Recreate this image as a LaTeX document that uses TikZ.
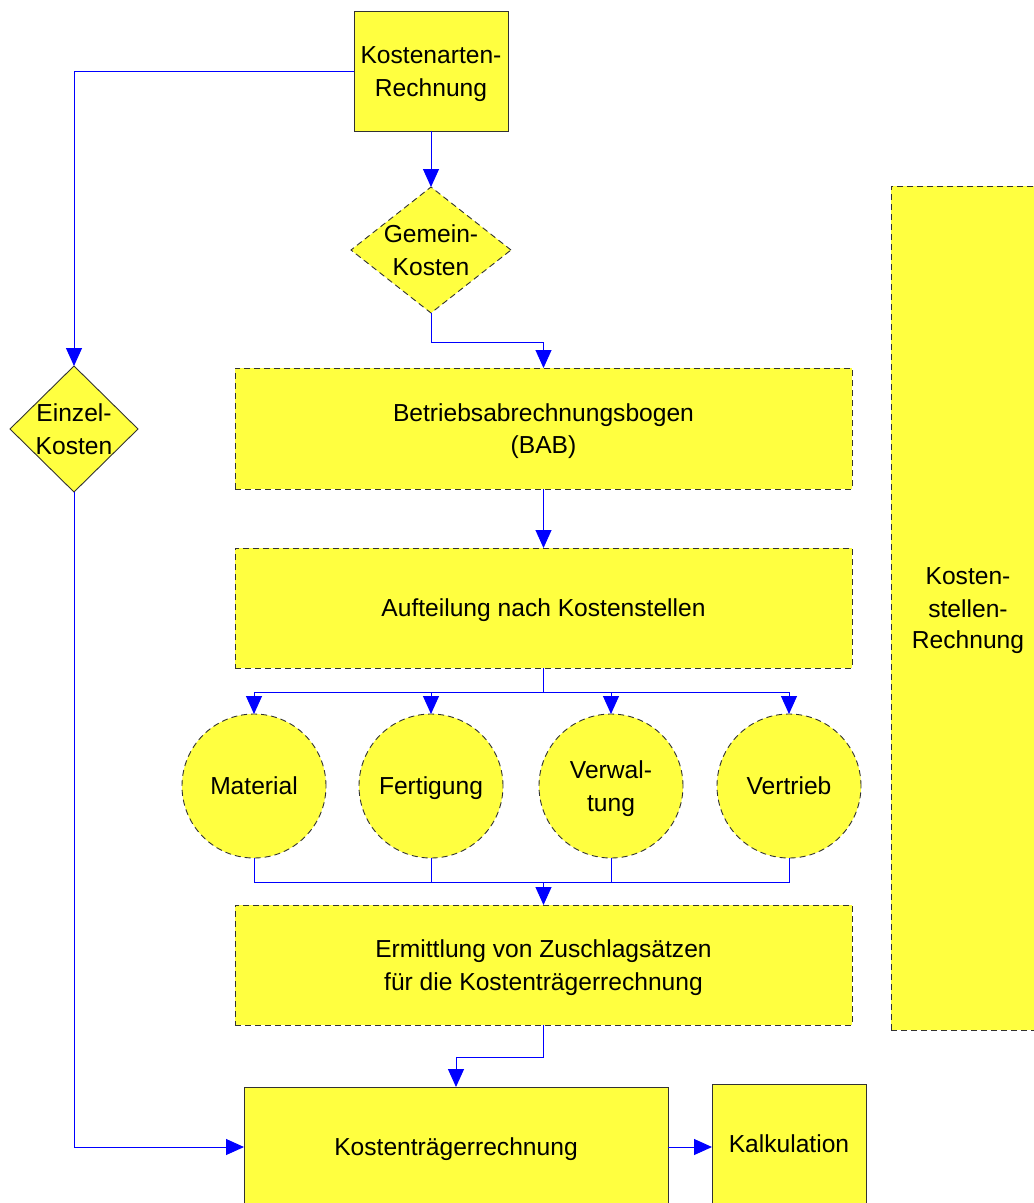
\documentclass[tikz,border=0pt]{standalone}
\usepackage{fontspec}
\setmainfont{Liberation Sans}
\usetikzlibrary{shapes.geometric,arrows.meta}
\definecolor{fillyel}{RGB}{255,255,64}
\definecolor{lineblue}{RGB}{0,0,255}
\definecolor{edgegray}{RGB}{50,50,50}
\newcommand{\mystrut}{\rule[-9.5pt]{0pt}{36.5pt}}
\begin{document}
\begin{tikzpicture}[x=1pt,y=-1pt,
  every node/.style={font=\fontsize{24.6}{31.5}\selectfont, align=center, inner sep=0pt, outer sep=0pt},
  solidbox/.style={rectangle, draw=edgegray, fill=fillyel, line width=0.9pt},
  dashbox/.style={rectangle, draw=edgegray, fill=fillyel, line width=0.9pt, dash pattern=on 6pt off 4pt},
  soliddia/.style={diamond, draw=edgegray, fill=fillyel, line width=0.9pt},
  dashdia/.style={diamond, draw=edgegray, fill=fillyel, line width=0.9pt, dash pattern=on 6pt off 4pt},
  dashcirc/.style={circle, draw=edgegray, fill=fillyel, line width=0.9pt, dash pattern=on 6pt off 4pt, minimum size=144pt},
  conn/.style={draw=lineblue, line width=1pt, -{Triangle[width=16pt,length=18pt]}},
  plainconn/.style={draw=lineblue, line width=1pt}
]
\clip (0,0) rectangle (1034,1203);
\fill[white] (0,0) rectangle (1034,1203);

% nodes
\node[solidbox, minimum width=154pt, minimum height=120pt] (ka) at (431,71) {\mystrut Kostenarten-\\\strut Rechnung};
\node[dashdia, minimum width=160pt, minimum height=126pt] (gem) at (431,250) {};
\node (gemt) at (gem) {\mystrut Gemein-\\\strut Kosten};
\node[soliddia, minimum width=128pt, minimum height=126pt] (ein) at (74,429) {};
\node (eint) at (ein) {\mystrut Einzel-\\\strut Kosten};
\node[dashbox, minimum width=617pt, minimum height=121pt] (bab) at (543.5,428.5) {\mystrut Betriebsabrechnungsbogen\\\strut (BAB)};
\node[dashbox, minimum width=617pt, minimum height=120pt] (auf) at (543.5,608) {\mystrut Aufteilung nach Kostenstellen};
\node[dashcirc] (mat) at (254,786) {\mystrut Material};
\node[dashcirc] (fer) at (431,786) {\mystrut Fertigung};
\node[dashcirc] (ver) at (611,786) {\mystrut Verwal-\\\strut tung};
\node[dashcirc] (vtr) at (789,786) {\mystrut Vertrieb};
\node[dashbox, minimum width=617pt, minimum height=120pt] (erm) at (543.5,965) {\mystrut Ermittlung von Zuschlagsätzen\\\strut für die Kostenträgerrechnung};
\node[solidbox, minimum width=424pt, minimum height=120pt] (kt) at (456,1147) {\mystrut Kostenträgerrechnung};
\node[solidbox, minimum width=154pt, minimum height=120pt] (kal) at (789,1144) {\mystrut Kalkulation};
\node[dashbox, minimum width=154pt, minimum height=844pt] (ksr) at (968,608) {\mystrut Kosten-\\\strut stellen-\\\strut Rechnung};

% connectors
\draw[conn] (ka.south) -- (gem.north);
\draw[conn] (ka.west) -| (ein.north);
\draw[conn] (gem.south) -- ++(0,29) -| (bab.north);
\draw[conn] (bab.south) -- (auf.north);
\coordinate (split) at (543.5,692);
\draw[plainconn] (auf.south) -- (split);
\draw[conn] (split) -| (mat.north);
\draw[conn] (split) -| (fer.north);
\draw[conn] (split) -| (ver.north);
\draw[conn] (split) -| (vtr.north);
\coordinate (merge) at (543.5,882);
\draw[plainconn] (mat.south) |- (merge);
\draw[plainconn] (fer.south) |- (merge);
\draw[plainconn] (ver.south) |- (merge);
\draw[plainconn] (vtr.south) |- (merge);
\draw[conn] (merge) -- (erm.north);
\draw[conn] (erm.south) -- ++(0,32) -| (kt.north);
\draw[conn] (ein.south) |- (kt.west);
\draw[conn] (kt.east) -- (kt.east -| kal.west);
\end{tikzpicture}
\end{document}
